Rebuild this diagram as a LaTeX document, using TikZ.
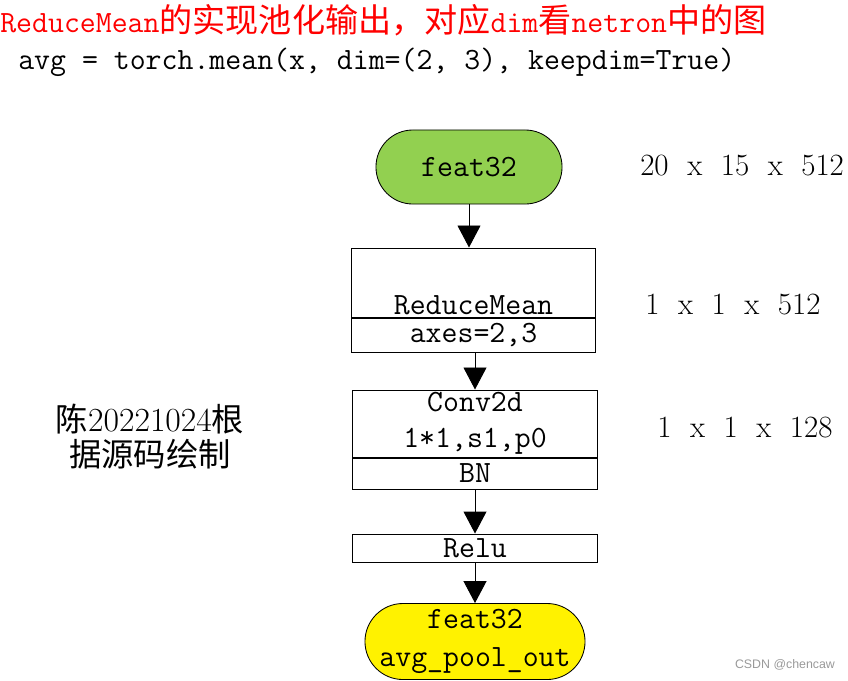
\documentclass[tikz,border=0pt]{standalone}
\usepackage{fontspec}
\newfontfamily\cjk[Scale=1.07]{Noto Sans CJK SC}
\newfontfamily\wmfont{Liberation Sans}
\usepackage{tikz}
\usetikzlibrary{arrows.meta,positioning}

\definecolor{featgreen}{RGB}{146,208,80}
\newcommand{\tms}{\hspace{.6em}x\hspace{.6em}}

\begin{document}
\begin{tikzpicture}[x=0.025cm, y=-0.025cm,
  termnode/.style={draw=black, rectangle, line width=0.6pt, inner sep=0pt,
    minimum width=4.65cm, minimum height=1.85cm, rounded corners=0.92cm,
    align=center, font=\ttfamily\fontsize{22}{27}\selectfont},
  opbox/.style={draw=black, fill=white, rectangle, line width=0.7pt, inner sep=0pt,
    minimum width=6.1cm, align=center, font=\ttfamily\fontsize{22}{25.6}\selectfont},
  optext/.style={inner sep=2pt, font=\ttfamily\fontsize{22}{25.6}\selectfont},
  dimlabel/.style={font=\fontsize{22}{25}\selectfont, inner sep=0pt},
  note/.style={align=center, inner sep=0pt, font=\fontsize{21.5}{24.9}\selectfont},
  ar/.style={-{Triangle[length=0.55cm,width=0.575cm]}, line width=0.7pt},
]
\useasboundingbox (0,0) rectangle (848,680);

%── Titel und Code ───────────────────────────────────────────────────────────

\node[anchor=west, inner sep=0pt, text=red, font=\ttfamily\fontsize{22}{26}\selectfont]
  (title) at (0,20) {ReduceMean{\cjk 的实现池化输出，对应}dim{\cjk 看}netron{\cjk 中的图}};
\node[anchor=west, inner sep=0pt, font=\ttfamily\fontsize{22}{26}\selectfont]
  (code) at (18,62) {avg = torch.mean(x, dim=(2, 3), keepdim=True)};

%── Ablauf ───────────────────────────────────────────────────────────────────

\node[termnode, fill=featgreen] (feat) at (469,167) {feat32};

\node[opbox, minimum height=1.725cm] (rmean) at (473.5,282.5) {};
\node[optext, above=0pt of rmean.south] (rmeantxt) {ReduceMean};
\node[opbox, below=0pt of rmean, minimum height=0.85cm] (raxes) {axes=2,3};

\node[opbox, minimum height=1.675cm] (conv) at (475,423.5) {Conv2d\\1*1,s1,p0};
\node[opbox, below=0pt of conv, minimum height=0.775cm] (bn) {BN};

\node[opbox, minimum height=0.7cm] (relu) at (475,548) {Relu};

\node[termnode, fill=yellow, minimum width=5.5cm, minimum height=1.9cm,
  rounded corners=0.95cm] (pool) at (475,641.5) {feat32\\avg\_pool\_out};

\draw[ar] (feat.south) -- (feat.south |- rmean.north);
\draw[ar] (raxes.south -| conv.north) -- (conv.north);
\draw[ar] (bn.south) -- (relu.north);
\draw[ar] (relu.south) -- (pool.north);

%── Formen ───────────────────────────────────────────────────────────────────

\node[dimlabel, anchor=west] (s1) at (640,166) {20\tms 15\tms 512};
\node[dimlabel, anchor=west] (s2) at (645,305) {1\tms 1\tms 512};
\node[dimlabel, anchor=west] (s3) at (657,428) {1\tms 1\tms 128};

%── Notiz ────────────────────────────────────────────────────────────────────

\node[note] (author) at (150,437)
  {{\cjk 陈}{\fontsize{24}{25}\selectfont 20221024}{\cjk 根}\\{\cjk 据源码绘制}};

\node[inner sep=0pt, text=gray!80, font=\wmfont\fontsize{8.8}{10}\selectfont]
  (wm) at (785,665) {CSDN @chencaw};

\end{tikzpicture}
\end{document}
